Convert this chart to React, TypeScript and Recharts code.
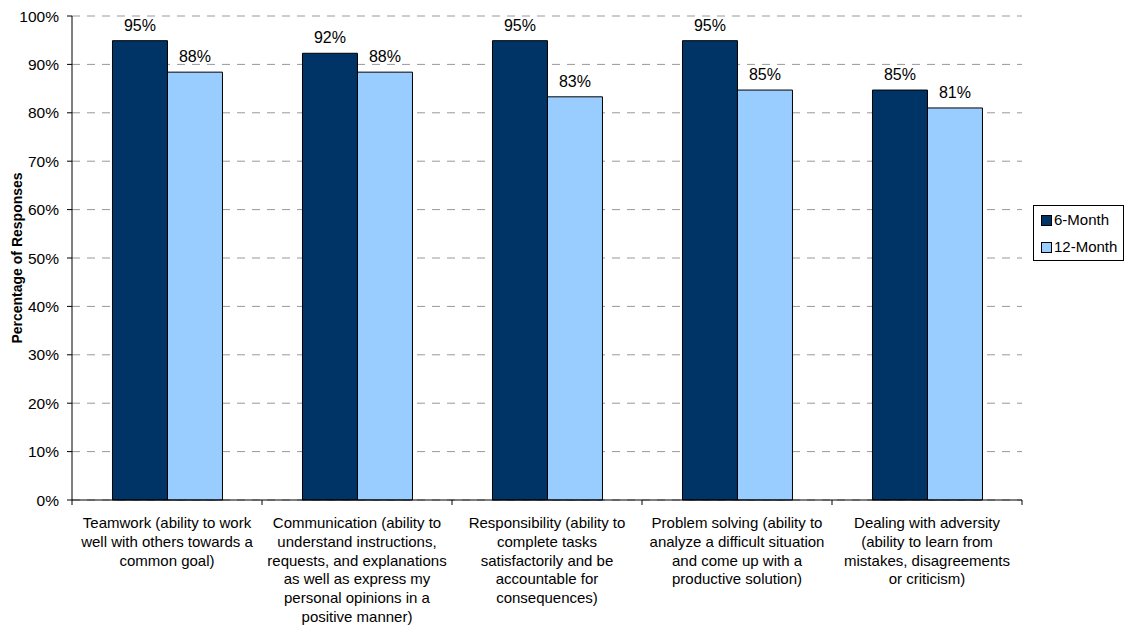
import { BarChart, Bar, XAxis, YAxis, CartesianGrid, Legend, LabelList } from 'recharts';

const categories = [
  'Teamwork (ability to work\nwell with others towards a\ncommon goal)',
  'Communication (ability to\nunderstand instructions,\nrequests, and explanations\nas well as express my\npersonal opinions in a\npositive manner)',
  'Responsibility (ability to\ncomplete tasks\nsatisfactorily and be\naccountable for\nconsequences)',
  'Problem solving (ability to\nanalyze a difficult situation\nand come up with a\nproductive solution)',
  'Dealing with adversity\n(ability to learn from\nmistakes, disagreements\nor criticism)',
];
const sixMonth = [94.9, 92.3, 94.9, 94.9, 84.7];
const twelveMonth = [88.4, 88.4, 83.3, 84.7, 81.0];
const yTicks = [0, 10, 20, 30, 40, 50, 60, 70, 80, 90, 100];

const series = [
  { key: 'six', name: '6-Month', color: '#003366' },
  { key: 'twelve', name: '12-Month', color: '#99CCFF' },
];

const data = categories.map((c, i) => ({ name: c, six: sixMonth[i], twelve: twelveMonth[i] }));

const FONT = '"Liberation Sans", Arial, sans-serif';

// label lines + tick marks on the category boundaries (half a band left of each label)
function CategoryTick(props: any) {
  const { x, y, payload, index, visibleTicksCount } = props;
  const half = payload.offset || 0;
  const lines = String(payload.value).split('\n');
  return (
    <g>
      <line x1={x - half} x2={x - half} y1={y} y2={y + 5} stroke="#000" />
      {index === visibleTicksCount - 1 && <line x1={x + half} x2={x + half} y1={y} y2={y + 5} stroke="#000" />}
      <text x={x} y={y} textAnchor="middle" fontFamily={FONT} fontSize={15} fill="#000">
        {lines.map((l, i) => (
          <tspan key={i} x={x} dy={i === 0 ? 28 : 18.8}>{l}</tspan>
        ))}
      </text>
    </g>
  );
}

function LegendBox() {
  return (
    <div style={{ width: 89, height: 54, border: '1px solid #000', fontFamily: FONT, fontSize: 15, background: '#fff', boxSizing: 'content-box' }}>
      {series.map((s) => (
        <div key={s.key} style={{ position: 'relative', height: 27, lineHeight: '27px' }}>
          <span style={{ position: 'absolute', left: 7, top: 9, width: 9, height: 9, background: s.color, border: '1px solid #000' }} />
          <span style={{ position: 'absolute', left: 20, top: 0 }}>{s.name}</span>
        </div>
      ))}
    </div>
  );
}

export default function App() {
  return (
    <div style={{ position: 'absolute', left: 0, top: 0 }}>
      <BarChart
        width={1124}
        height={627}
        data={data}
        margin={{ top: 16, right: 11, left: 0, bottom: 0 }}
        barCategoryGap="21.3%"
        barGap={0}
      >
        <CartesianGrid vertical={false} stroke="#999" strokeDasharray="8 7" />
        <XAxis
          dataKey="name"
          stroke="#000"
          tickLine={false}
          tickSize={0}
          tickMargin={0}
          height={127}
          interval={0}
          tick={<CategoryTick />}
        />
        <YAxis
          domain={[0, 100]}
          ticks={yTicks}
          tickFormatter={(v: number) => `${v}%`}
          width={72}
          tickSize={5}
          tickMargin={8}
          stroke="#000"
          tick={{ fill: '#000', fontSize: 15.5, fontFamily: FONT }}
          label={{
            value: 'Percentage of Responses',
            angle: -90,
            position: 'insideLeft',
            offset: 17,
            style: { textAnchor: 'middle', fontWeight: 'bold', fontSize: 14, fontFamily: FONT, fill: '#000' },
          }}
        />
        <Legend
          layout="vertical"
          align="right"
          verticalAlign="middle"
          content={<LegendBox />}
          wrapperStyle={{ right: 0, top: 205 }}
        />
        {series.map((s) => (
          <Bar key={s.key} dataKey={s.key} name={s.name} fill={s.color} stroke="#000" strokeWidth={1} isAnimationActive={false}>
            <LabelList
              dataKey={s.key}
              position="top"
              offset={10}
              formatter={(v: any) => `${Math.round(Number(v))}%`}
              style={{ fill: '#000', fontSize: 16, fontFamily: FONT }}
            />
          </Bar>
        ))}
      </BarChart>
    </div>
  );
}
